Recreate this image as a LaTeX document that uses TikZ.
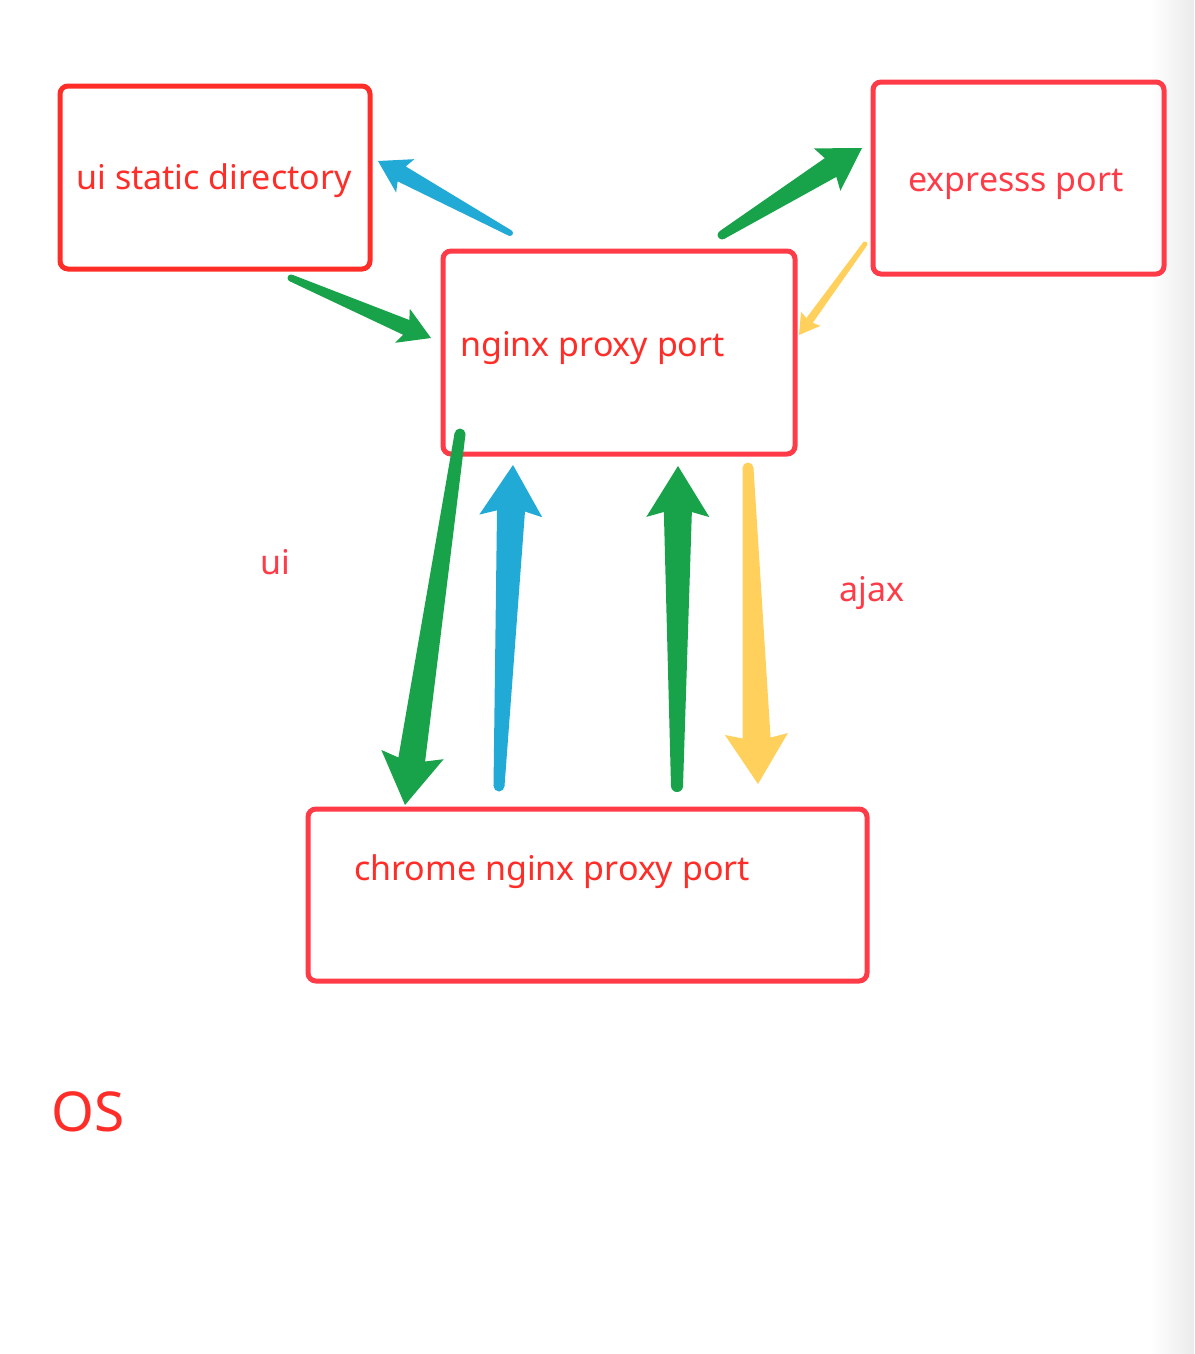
\documentclass[tikz,border=0pt]{standalone}
\usepackage{fontspec}
\setmainfont{Noto Sans}
\usetikzlibrary{calc}
\definecolor{redA}{RGB}{255,45,40}
\definecolor{redB}{RGB}{255,59,72}
\definecolor{grn}{RGB}{24,162,73}
\definecolor{blu}{RGB}{34,170,214}
\definecolor{yel}{RGB}{255,208,92}
\tikzset{
  box/.style={draw=redB, line width=5, rounded corners=8, inner sep=0, fill=none},
  lbl/.style={inner sep=0, font=\fontsize{34}{40}\selectfont},
}
% tapered arrow: #1 colour, #2 tail, #3 tip, #4 tail width, #5 joint width, #6 head width, #7 head length, #8 sweep
\newcommand\tarrow[8]{%
  \coordinate (tJ) at ($(#3)!{(#7)*1pt}!(#2)$);
  \coordinate (tK) at ($(#3)!{(#7+#8)*1pt}!(#2)$);
  \fill[#1] ($(#2)!{(#4)*0.5pt}!90:(#3)$) -- ($(tJ)!{(#5)*0.5pt}!90:(#3)$) --
    ($(tK)!{(#6)*0.5pt}!90:(#3)$) -- (#3) -- ($(tK)!{(#6)*0.5pt}!-90:(#3)$) --
    ($(tJ)!{(#5)*0.5pt}!-90:(#3)$) -- ($(#2)!{(#4)*0.5pt}!-90:(#3)$) -- cycle;
  \fill[#1] (#2) circle[radius={(#4)/2}];
}
\begin{document}
\begin{tikzpicture}[x=1pt,y=-1pt]
\useasboundingbox (0,0) rectangle (1194,1354);
\shade[left color=white, right color=black!8] (1150,0) rectangle (1194,1354);

% boxes
\node[box, draw=redA, minimum width=310, minimum height=183] (ui) at (215,177.5) {};
\node[box, minimum width=352, minimum height=203] (ng) at (619,352.5) {};
\node[box, minimum width=291, minimum height=192] (ex) at (1018.5,178) {};
\node[box, minimum width=559, minimum height=172] (ch) at (587.5,895) {};

% texts
\node[lbl, text=redA] (tui) at (214,181) {ui static directory};
\node[lbl, text=redB] (tex) at (1016,184) {expresss port};
\node[lbl, text=redA, anchor=west] (tng) at (460,348) {nginx proxy port};
\node[lbl, text=redA, anchor=west] (tch) at (354,872) {chrome nginx proxy port};
\node[lbl, text=redB] (lui) at (275,562) {ui};
\node[lbl, text=redB] (lajax) at (872,593) {ajax};
\node[inner sep=0, text=redA, font=\fontsize{55}{64}\selectfont] (os) at (88,1112) {OS};

% connector end points
\coordinate (a1s) at (510,233);   \coordinate (a1e) at (378,161);
\coordinate (a2s) at (291,278);   \coordinate (a2e) at (431,338);
\coordinate (a3s) at (722,235);   \coordinate (a3e) at (862,148);
\coordinate (a4s) at (865,244);   \coordinate (a4e) at (799,335);
\coordinate (a5s) at (460,434);   \coordinate (a5e) at (405,805);
\coordinate (a6s) at (499,786);   \coordinate (a6e) at (513,465);
\coordinate (a7s) at (677,786);   \coordinate (a7e) at (678,466);
\coordinate (a8s) at (748,468);   \coordinate (a8e) at (758,784);

\tarrow{blu}{a1s}{a1e}{6}{17}{38}{27}{4}
\tarrow{grn}{a2s}{a2e}{7}{16}{37}{27}{4}
\tarrow{grn}{a3s}{a3e}{9}{22}{50}{37}{4}
\tarrow{yel}{a4s}{a4e}{5}{8}{24}{18}{2}
\tarrow{grn}{a5s}{a5e}{11}{27}{63}{46}{5}
\tarrow{blu}{a6s}{a6e}{11}{28}{63}{46}{5}
\tarrow{grn}{a7s}{a7e}{12}{28}{63}{46}{5}
\tarrow{yel}{a8s}{a8e}{11}{28}{63}{46}{4}
\end{tikzpicture}
\end{document}
